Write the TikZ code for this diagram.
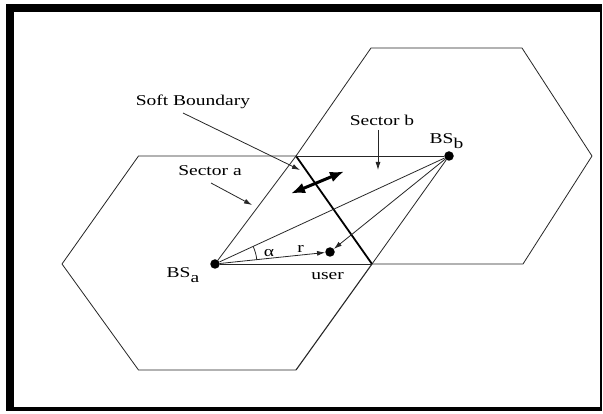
\documentclass[tikz,border=0pt]{standalone}
\usepackage{fontspec}
\newfontfamily\lblfont{Liberation Serif}[FakeStretch=1.3]
\usetikzlibrary{arrows.meta}
\tikzset{
  thin line/.style={draw=black!85, line width=0.8pt},
  soft line/.style={draw=black, line width=1.8pt},
  lbl/.style={font=\lblfont\fontsize{15}{18}\selectfont, inner sep=0pt, anchor=base},
  dot/.style={circle, fill=black, inner sep=0pt, minimum size=9.5pt},
  ptr/.style={thin line, -{Latex[length=8pt,width=5pt]}},
  bigarrow/.style={draw=black, line width=3pt, {Latex[length=14pt,width=11pt]}-{Latex[length=14pt,width=11pt]}}
}
\begin{document}
\begin{tikzpicture}[x=1pt,y=-1pt]
% background and frame
\fill[white] (0,0) rectangle (603,414);
\useasboundingbox (0,0) rectangle (603,414);
\fill[black] (6,4) rectangle (602,411);
\fill[white] (14,12) rectangle (600,407);

% hexagon A vertices
\coordinate (A1) at (62,264);
\coordinate (A2) at (138.5,156);
\coordinate (A3) at (296,156);
\coordinate (A4) at (372,264);
\coordinate (A5) at (296,370);
\coordinate (A6) at (138.5,370);
% hexagon B vertices
\coordinate (B2) at (371,48);
\coordinate (B3) at (522,48);
\coordinate (B4) at (592,156);
\coordinate (B5) at (523,264);

% base stations and user
\node[dot] (bsa) at (215,264) {};
\node[dot] (bsb) at (449,156) {};
\node[dot] (user) at (330,252) {};

% hexagon A outline
\draw[thin line] (A3) -- (A2) -- (A1) -- (A6) -- (A5);
\draw[thin line, line width=1.1pt] (A5) -- (A4);
% hexagon B outline
\draw[thin line] (A3) -- (B2) -- (B3) -- (B4) -- (B5) -- (A4);
% soft boundary (shared edge)
\draw[soft line] (A3) -- (A4);

% sector lines
\draw[thin line] (A3) -- (bsb);
\draw[thin line] (bsa) -- (A3);
\draw[thin line] (bsa) -- (A4);
\draw[thin line] (bsb) -- (A4);
\draw[thin line] (bsa) -- (bsb);
\draw[ptr] (bsa) -- (user);
\draw[ptr] (bsb) -- (user);

% angle alpha
\draw[thin line] ([shift={(-5.96:42)}]bsa.center) arc[start angle=-5.96, end angle=-24.78, radius=42];

% double arrow
\coordinate (da1) at (291,193.5);
\coordinate (da2) at (344,171.5);
\draw[bigarrow] (da1) -- (da2);

% labels
\node[lbl] (soft) at (193,105.5) {Soft Boundary};
\node[lbl] (seca) at (210,175.5) {Sector a};
\node[lbl] (secb) at (382,125.5) {Sector b};
\node[lbl] (userlbl) at (327.5,279.5) {user};
\node[lbl, anchor=base west] (bsalbl) at (166.5,278) {BS\raisebox{-4.5pt}{a}};
\node[lbl, anchor=base west] (bsblbl) at (429.5,144) {BS\raisebox{-4.5pt}{b}};
\node[lbl] (alpha) at (269,257) {α};
\node[lbl] (rlbl) at (300.5,253) {r};

% label pointers
\coordinate (softend) at (300,170);
\coordinate (secaend) at (252,205);
\coordinate (secbend) at (378,170);
\draw[ptr] (183,113) -- (softend);
\draw[ptr] (211,183) -- (secaend);
\draw[ptr] (378,130) -- (secbend);
\end{tikzpicture}
\end{document}
